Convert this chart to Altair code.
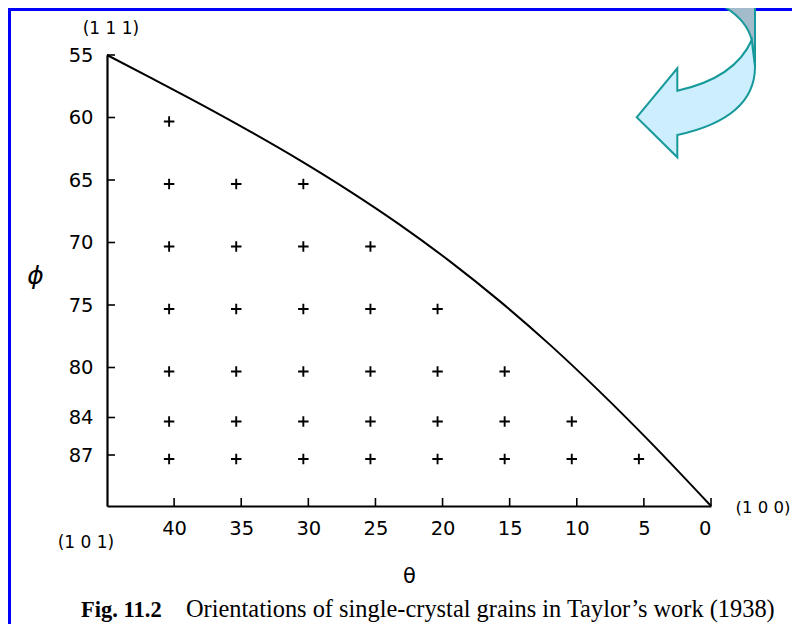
import altair as alt
import pandas as pd

# ---------------- data ----------------
theta_ticks = [40, 35, 30, 25, 20, 15, 10, 5, 0]
phi_ticks = [55, 60, 65, 70, 75, 80, 84, 87]

grain_phi = [60, 65, 70, 75, 80, 84, 87]
grain_theta = [
    [40],
    [40, 35, 30],
    [40, 35, 30, 25],
    [40, 35, 30, 25, 20],
    [40, 35, 30, 25, 20, 15],
    [40, 35, 30, 25, 20, 15, 10],
    [40, 35, 30, 25, 20, 15, 10, 5],
]

curve_theta = [45, 41.8, 38.07, 34.35, 30.62, 26.9, 23.17, 19.45, 15.72, 11.99, 8.27, 4.54, 0]
curve_phi = [55, 56.79, 58.91, 61.11, 63.43, 65.91, 68.59, 71.51, 74.71, 78.19, 81.95, 85.95, 91.08]

corner_labels = ["(1 1 1)", "(1 0 1)", "(1 0 0)"]
corner_theta = [45, 45, 0]
corner_phi = [55, 91.08, 91.08]

caption_bold = "Fig. 11.2"
caption_text = "Orientations of single-crystal grains in Taylor\u2019s work (1938)"

# ---------------- tables ----------------
curve_df = pd.DataFrame({"theta": curve_theta, "phi": curve_phi})
grains_df = pd.DataFrame(
    [{"theta": t, "phi": p} for p, row in zip(grain_phi, grain_theta) for t in row]
)
xtick_df = pd.DataFrame({"theta": theta_ticks})
ytick_df = pd.DataFrame({"phi": phi_ticks})
corner_df = pd.DataFrame({"theta": corner_theta, "phi": corner_phi, "label": corner_labels})
one = pd.DataFrame({"k": [0]})

W, H = 604, 451
FONT = "DejaVu Sans"

xs = alt.Scale(domain=[45, 0], nice=False, zero=False)
ys = alt.Scale(domain=[91.08, 55], nice=False, zero=False)

x_axis = alt.Axis(
    values=theta_ticks, title="\u03b8", ticks=False, grid=False,
    domainColor="black", domainWidth=2.2, labelColor="black",
    labelFont=FONT, labelFontSize=19.5, labelPadding=13,
    titleFont=FONT, titleFontSize=21, titleFontWeight="normal", titleColor="black",
    titleY=70, titleBaseline="middle",
)
y_axis = alt.Axis(
    values=phi_ticks, title="\u03d5", ticks=False, grid=False,
    domainColor="black", domainWidth=2.2, labelColor="black",
    labelFont=FONT, labelFontSize=19.5, labelPadding=14,
    titleFont=FONT, titleFontSize=25, titleFontWeight="normal", titleColor="black",
    titleFontStyle="italic", titleAngle=0, titleX=-72, titleY=220,
    titleAlign="center", titleBaseline="middle",
)

def X():
    return alt.X("theta:Q", scale=xs, axis=x_axis)

def Y():
    return alt.Y("phi:Q", scale=ys, axis=y_axis)

# blue frame (top and left edges)
border_top = alt.Chart(one).mark_rule(color="#0000ff", strokeWidth=3).encode(
    x=alt.value(-99), x2=alt.value(W + 81), y=alt.value(-45.5))
border_left = alt.Chart(one).mark_rule(color="#0000ff", strokeWidth=3).encode(
    x=alt.value(-97.5), y=alt.value(-47), y2=alt.value(H + 118))

curve = alt.Chart(curve_df).mark_line(
    color="black", strokeWidth=2, interpolate="monotone").encode(
    x=X(), y=Y(), order=alt.Order("theta:Q", sort="descending"))

xticks = alt.Chart(xtick_df).mark_rule(color="black", strokeWidth=1.6).encode(
    x=X(), y=alt.value(H), y2=alt.value(H - 8))
yticks = alt.Chart(ytick_df).mark_rule(color="black", strokeWidth=1.6).encode(
    y=Y(), x=alt.value(0), x2=alt.value(8))

grains = alt.Chart(grains_df).mark_point(
    shape="M-1,0L1,0M0,-1L0,1", size=110, filled=False, stroke="black",
    strokeWidth=1.9, opacity=1, xOffset=-5, yOffset=4).encode(x=X(), y=Y())

corner_offsets = [(4, -26), (-21, 37), (52, 2)]
corner_sizes = [17, 17, 16.5]
corners = []
for i, (ddx, ddy) in enumerate(corner_offsets):
    corners.append(
        alt.Chart(corner_df.iloc[[i]]).mark_text(
            font=FONT, fontSize=corner_sizes[i], color="black", dx=ddx, dy=ddy,
            align="center", baseline="middle").encode(x=X(), y=Y(), text="label:N"))

cap1 = alt.Chart(one).mark_text(
    text=caption_bold, font="Liberation Serif", fontSize=22.5, fontWeight="bold",
    color="black", align="left", baseline="alphabetic").encode(
    x=alt.value(-26), y=alt.value(562))
cap2 = alt.Chart(one).mark_text(
    text=caption_text, font="Liberation Serif", fontSize=24.4,
    color="black", align="left", baseline="alphabetic").encode(
    x=alt.value(79), y=alt.value(562))

arrow_back_path = "M0.0375,-1.0625Q0.6,-0.85,0.684,-0.5L0.725,-0.166L0.725,-1.0625Z"
arrow_front_path = ("M-0.754,0.466L-0.246,-0.146L-0.246,0.134Q0.475,-0.025,0.684,-0.5"
                    "L0.725,-0.166Q0.725,0.475,-0.246,0.6875L-0.246,0.966Z")
arrow_back = alt.Chart(one).mark_point(
    shape=arrow_back_path, size=25600, filled=True, fill="#a3bccb",
    stroke="#16999a", strokeWidth=2, opacity=1).encode(
    x=alt.value(590), y=alt.value(25))
arrow_front = alt.Chart(one).mark_point(
    shape=arrow_front_path, size=25600, filled=True, fill="#cdeefd",
    stroke="#16999a", strokeWidth=2, opacity=1).encode(
    x=alt.value(590), y=alt.value(25))

chart = alt.layer(
    border_top, border_left, curve, xticks, yticks, grains, *corners,
    cap1, cap2, arrow_back, arrow_front,
).properties(
    width=W, height=H,
    autosize=alt.AutoSizeParams(type="none"),
    padding={"left": 99, "top": 47, "right": 81, "bottom": 118},
    background="white",
).configure_view(stroke=None)

chart.save("out.html", embed_options={"renderer": "svg", "actions": False})
